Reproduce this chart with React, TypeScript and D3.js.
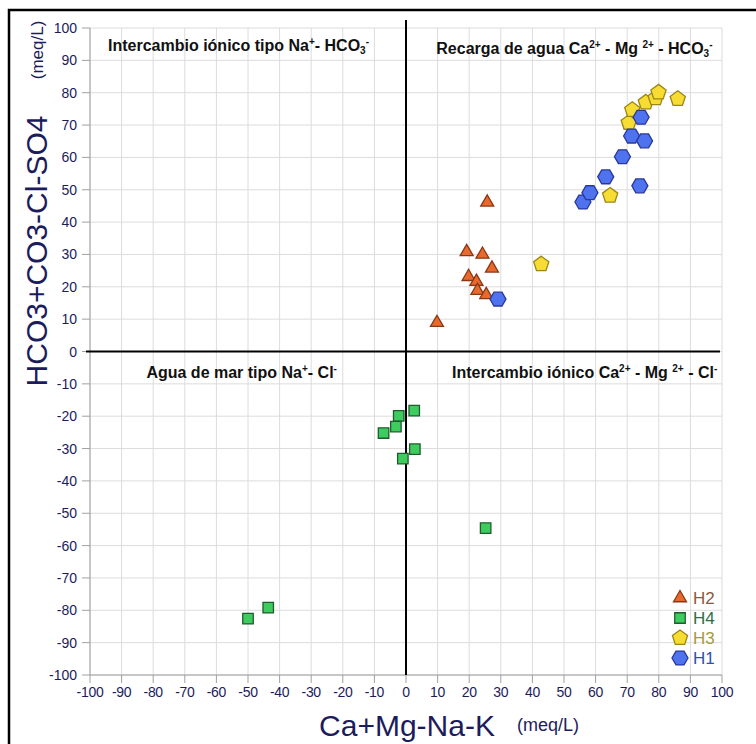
import React from "react";
import * as d3 from "d3";

// Sample groups: x = Ca+Mg-Na-K, y = HCO3+CO3-Cl-SO4 (meq/L)
const h2X = [25.7, 19.2, 24.2, 27.2, 19.8, 22.3, 22.6, 25.4, 9.8];
const h2Y = [46.1, 30.8, 30.0, 25.7, 23.1, 21.6, 18.8, 17.5, 8.9];

const h4X = [2.6, -2.3, -3.2, -7.1, 2.8, -1.0, 25.2, -43.6, -50.0];
const h4Y = [-18.3, -19.9, -23.2, -25.2, -30.2, -33.1, -54.6, -79.2, -82.6];

const h3X = [42.8, 64.6, 70.5, 71.6, 75.9, 79.0, 79.9, 86.0];
const h3Y = [27.0, 48.2, 70.7, 74.7, 77.0, 78.3, 80.1, 78.1];

const h1X = [29.1, 56.0, 58.2, 63.2, 68.5, 71.4, 75.5, 74.4, 74.0];
const h1Y = [16.2, 46.2, 49.1, 54.0, 60.2, 66.6, 65.1, 72.4, 51.2];

const xTicks = [-100, -90, -80, -70, -60, -50, -40, -30, -20, -10, 0, 10, 20, 30, 40, 50, 60, 70, 80, 90, 100];
const yTicks = [-100, -90, -80, -70, -60, -50, -40, -30, -20, -10, 0, 10, 20, 30, 40, 50, 60, 70, 80, 90, 100];

const W = 756;
const H = 744;
const FONT = "Arial, 'Liberation Sans', Helvetica, sans-serif";
const NAVY = "#1c1c5c";

const x = d3.scaleLinear().domain([-100, 100]).range([90, 722]);
const y = d3.scaleLinear().domain([-100, 100]).range([675, 28]);

// Regular polygon path centred at origin
function polygon(n: number, r: number, rot: number): string {
  const pts = d3.range(n).map((i) => {
    const a = rot + (i * 2 * Math.PI) / n;
    return [r * Math.cos(a), r * Math.sin(a)] as [number, number];
  });
  return d3.line()(pts) + "Z";
}

type Series = {
  name: string;
  xs: number[];
  ys: number[];
  path: string;
  fill: string;
  stroke: string;
  text: string;
};

const series: Series[] = [
  { name: "H2", xs: h2X, ys: h2Y, path: polygon(3, 7.5, -Math.PI / 2), fill: "#e8692e", stroke: "#8a3814", text: "#8a5a3c" },
  { name: "H4", xs: h4X, ys: h4Y, path: d3.symbol(d3.symbolSquare, 110)()!, fill: "#3fcc5e", stroke: "#1e5c2c", text: "#2f6e46" },
  { name: "H3", xs: h3X, ys: h3Y, path: polygon(5, 8, -Math.PI / 2), fill: "#f7dc34", stroke: "#9c8618", text: "#a49c3a" },
  { name: "H1", xs: h1X, ys: h1Y, path: polygon(6, 8, 0), fill: "#4f72ee", stroke: "#28389a", text: "#2f4fae" },
];

type Seg = { t: string; k?: "sup" | "sub" };

function RichText({ segs, px, py, anchor }: { segs: Seg[]; px: number; py: number; anchor: string }) {
  let prevShift = 0;
  return (
    <text x={px} y={py} textAnchor={anchor} fontFamily={FONT} fontWeight="bold" fontSize={16} fill="#111">
      {segs.map((s, i) => {
        const shift = s.k === "sup" ? -6 : s.k === "sub" ? 3 : 0;
        const dy = shift - prevShift;
        prevShift = shift;
        return (
          <tspan key={i} dy={dy} fontSize={s.k ? 10 : 16}>
            {s.t}
          </tspan>
        );
      })}
    </text>
  );
}

const labelTL: Seg[] = [{ t: "Intercambio iónico tipo Na" }, { t: "+", k: "sup" }, { t: "- HCO" }, { t: "3", k: "sub" }, { t: "-", k: "sup" }];
const labelTR: Seg[] = [{ t: "Recarga de agua Ca" }, { t: "2+", k: "sup" }, { t: " - Mg " }, { t: "2+", k: "sup" }, { t: " - HCO" }, { t: "3", k: "sub" }, { t: "-", k: "sup" }];
const labelBL: Seg[] = [{ t: "Agua de mar tipo Na" }, { t: "+", k: "sup" }, { t: "- Cl" }, { t: "-", k: "sup" }];
const labelBR: Seg[] = [{ t: "Intercambio iónico Ca" }, { t: "2+", k: "sup" }, { t: " - Mg " }, { t: "2+", k: "sup" }, { t: " - Cl" }, { t: "-", k: "sup" }];

export default function App() {
  const [x0, x1] = x.range();
  const [y0, y1] = y.range();
  return (
    <svg width={W} height={H} style={{ position: "absolute", left: 0, top: 0, background: "#fff" }}>
      {/* outer frame */}
      <rect x={9} y={10} width={780} height={780} fill="none" stroke="#000" strokeWidth={2.5} />

      {/* grid */}
      {xTicks.map((t) => (
        <line key={"gx" + t} x1={x(t)} x2={x(t)} y1={y1} y2={y0} stroke="#dcdcdc" strokeWidth={1} />
      ))}
      {yTicks.map((t) => (
        <line key={"gy" + t} x1={x0} x2={x1} y1={y(t)} y2={y(t)} stroke="#dcdcdc" strokeWidth={1} />
      ))}

      {/* axes */}
      <line x1={x0} x2={x0} y1={y1} y2={y0} stroke="#a0a0a0" />
      <line x1={x0} x2={x1} y1={y0} y2={y0} stroke="#a0a0a0" />
      {yTicks.map((t) => (
        <g key={"ty" + t}>
          <line x1={x0 - 8} x2={x0} y1={y(t)} y2={y(t)} stroke="#a0a0a0" />
          <text x={77} y={y(t)} dy="0.36em" textAnchor="end" fontFamily={FONT} fontSize={14} fill={NAVY}>
            {t}
          </text>
        </g>
      ))}
      {xTicks.map((t) => (
        <g key={"tx" + t}>
          <line x1={x(t)} x2={x(t)} y1={y0} y2={y0 + 8} stroke="#a0a0a0" />
          <text x={x(t)} y={697} textAnchor="middle" fontFamily={FONT} fontSize={14} fill={NAVY} letterSpacing={-0.3}>
            {t}
          </text>
        </g>
      ))}

      {/* zero lines */}
      <line x1={86} x2={720} y1={y(0)} y2={y(0)} stroke="#000" strokeWidth={2} />
      <line x1={x(0)} x2={x(0)} y1={20} y2={y0} stroke="#000" strokeWidth={2} />

      {/* quadrant labels */}
      <RichText segs={labelTL} px={x(-53)} py={51} anchor="middle" />
      <RichText segs={labelTR} px={x(97)} py={54} anchor="end" />
      <RichText segs={labelBL} px={x(-52)} py={378} anchor="middle" />
      <RichText segs={labelBR} px={x(98.5)} py={378} anchor="end" />

      {/* points */}
      {series.map((s) =>
        s.xs.map((v, i) => (
          <path
            key={s.name + i}
            d={s.path}
            transform={`translate(${x(v)},${y(s.ys[i])})`}
            fill={s.fill}
            stroke={s.stroke}
            strokeWidth={1.3}
          />
        ))
      )}

      {/* legend */}
      {series.map((s, i) => (
        <g key={"lg" + s.name} transform={`translate(680,${598 + i * 20})`}>
          <path d={s.path} fill={s.fill} stroke={s.stroke} strokeWidth={1.3} />
          <text x={13} y={0} dy="0.36em" fontFamily={FONT} fontSize={17} fill={s.text}>
            {s.name}
          </text>
        </g>
      ))}

      {/* axis titles */}
      <text x={407} y={736} textAnchor="middle" fontFamily={FONT} fontSize={30} fill={NAVY}>
        Ca+Mg-Na-K
      </text>
      <text x={517} y={731} fontFamily={FONT} fontSize={18} fill={NAVY}>
        (meq/L)
      </text>
      <text transform="translate(47,251) rotate(-90)" textAnchor="middle" fontFamily={FONT} fontSize={30} fill={NAVY}>
        HCO3+CO3-Cl-SO4
      </text>
      <text transform="translate(43,50) rotate(-90)" textAnchor="middle" fontFamily={FONT} fontSize={17} fill={NAVY}>
        (meq/L)
      </text>
    </svg>
  );
}
